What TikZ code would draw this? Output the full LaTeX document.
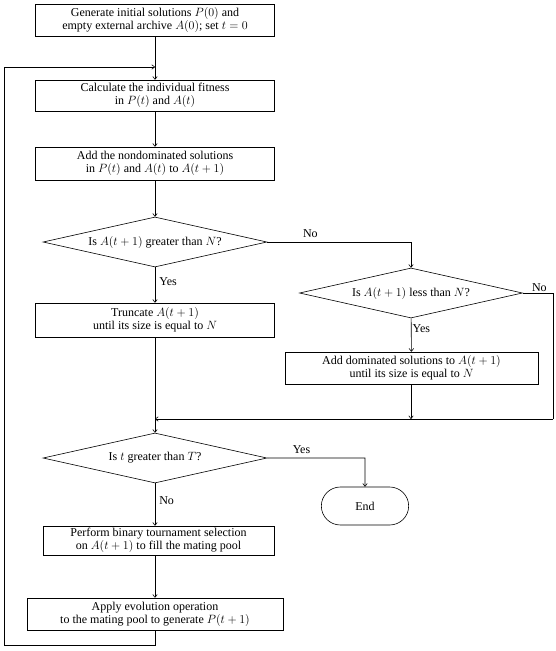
\documentclass[tikz,border=0pt]{standalone}
\usepackage{fontspec}
\setmainfont{Liberation Serif}
\usepackage{tikz}
\usetikzlibrary{shapes.geometric,shapes.misc,arrows.meta}

\begin{document}
\begin{tikzpicture}[x=1pt,y=-1pt,font=\fontsize{12}{13}\selectfont,
every path/.style={line width=0.6pt},
proc/.style={draw, rectangle, align=center, minimum width=239pt, minimum height=32pt, inner sep=1pt},
decide/.style={draw, diamond, aspect=4.48, inner sep=0pt, minimum width=224pt, minimum height=50pt},
term/.style={draw, rounded rectangle, minimum width=94pt, minimum height=38pt},
flow/.style={-{To[length=3.5pt,width=5pt]}},
lbl/.style={inner sep=1pt}]
\useasboundingbox (0,0) rectangle (555,651);
\node[proc] (init) at (155,20) {Generate initial solutions $P(0)$ and\\empty external archive $A(0)$; set $t = 0$};
\node[proc, minimum height=31pt] (fit) at (155,95.5) {Calculate the individual fitness\\in $P(t)$ and $A(t)$};
\node[proc, minimum height=33pt] (nondom) at (155,163.5) {Add the nondominated solutions\\in $P(t)$ and $A(t)$ to $A(t+1)$};
\node[decide] (great) at (155,242) {Is $A(t+1)$ greater than $N$?};
\node[proc, minimum height=34pt] (trunc) at (155,320) {Truncate $A(t+1)$\\until its size is equal to $N$};
\node[decide, minimum width=223pt] (less) at (411,293) {Is $A(t+1)$ less than $N$?};
\node[proc, minimum width=253pt] (adddom) at (411.5,368) {Add dominated solutions to $A(t+1)$\\until its size is equal to $N$};
\node[decide] (stop) at (155,458) {Is $t$ greater than $T$?};
\node[term] (end) at (365,506) {End};
\node[proc, minimum width=231pt, minimum height=29pt] (tour) at (158.5,540.5) {Perform binary tournament selection\\on $A(t+1)$ to fill the mating pool};
\node[proc, minimum width=256pt] (evo) at (155,614) {Apply evolution operation\\to the mating pool to generate $P(t+1)$};
\coordinate (join) at (155,67);
\coordinate (merge) at (155,419);
\draw (init) -- (join);
\draw[flow] (join) -- (fit);
\draw[flow] (fit) -- (nondom);
\draw[flow] (nondom) -- (great);
\draw[flow] (great) -- node[lbl, right, pos=0.4, xshift=3pt] {Yes} (trunc);
\draw[flow] (great.east) -- (411,242) node[lbl, above, pos=0.3, yshift=3pt] {No} -- (less.north);
\draw[flow] (less) -- node[lbl, right, pos=0.3] {Yes} (adddom);
\draw (less.east) -- node[lbl, above, pos=0.55] {No} (553,293) -- (553,419);
\draw[flow] (adddom.south -| 411,0) -- (411,419);
\draw[flow] (553,419) -- (merge);
\draw (trunc) -- (merge);
\draw[flow] (merge) -- (stop);
\draw[flow] (stop.east) -- node[lbl, above, pos=0.35, yshift=3pt] {Yes} (365,458) -- (end);
\draw[flow] (stop) -- node[lbl, right, pos=0.4, xshift=3pt] {No} (stop.south |- tour.north);
\draw[flow] (tour.south -| 155,0) -- (evo);
\draw[flow] (evo) -- (155,645) -- (4,645) -- (4,67) -- (join);
\end{tikzpicture}
\end{document}
